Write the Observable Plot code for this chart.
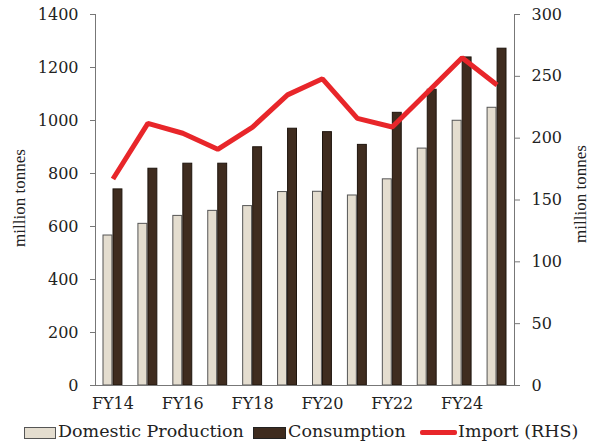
<!DOCTYPE html>
<html><head><meta charset="utf-8">
<script src="https://cdn.jsdelivr.net/npm/d3@7"></script>
<script src="https://cdn.jsdelivr.net/npm/@observablehq/plot@0.6"></script>
<style>
body{margin:0;background:#fff;}
#legend{position:relative;height:29px;font-family:"DejaVu Serif",serif;font-size:17.5px;color:#222;}
#legend .sw{position:absolute;top:9px;height:12px;box-sizing:border-box;}
#legend .tx{position:absolute;top:3px;white-space:nowrap;}
</style></head>
<body>
<div id="chart"></div>
<div id="legend">
  <div class="sw" style="left:24px;width:32px;background:#e4ddcf;border:1px solid #555;"></div>
  <div class="tx" style="left:58px;">Domestic Production</div>
  <div class="sw" style="left:253px;width:33px;background:#3f2c1f;border:1px solid #222;"></div>
  <div class="tx" style="left:288px;">Consumption</div>
  <div class="sw" style="left:420px;width:37px;top:12px;height:5px;background:#e8262a;border-radius:2px;"></div>
  <div class="tx" style="left:458px;">Import (RHS)</div>
</div>
<script>
const years = ["FY14","FY15","FY16","FY17","FY18","FY19","FY20","FY21","FY22","FY23","FY24","FY25"];
const domestic = [566,610,640,659,677,730,731,717,778,894,999,1048];
const consumption = [740,818,837,837,899,969,956,908,1029,1116,1238,1271];
const imports = [167,212,204,191,209,235,248,216,209,237,265,243];
const leftTicks = [0,200,400,600,800,1000,1200,1400];
const rightTicks = [0,50,100,150,200,250,300];
const xTickLabels = ["FY14","FY16","FY18","FY20","FY22","FY24"];

const k = 1400/300;
const rows = years.map((y,i)=>({year:y, dom:domestic[i], cons:consumption[i], imp:imports[i]}));

const chart = Plot.plot({
  width: 591, height: 418,
  marginLeft: 95, marginRight: 77, marginTop: 14, marginBottom: 33,
  style: {fontFamily: "DejaVu Serif, serif", fontSize: "15px", color: "#222", background: "#fff"},
  x: {type: "band", domain: years, padding: 0, round: false},
  y: {domain: [0, 1400]},
  marks: [
    Plot.barY(rows, {x: "year", y: "dom", fill: "#e4ddcf", stroke: "#555", strokeWidth: 1, insetLeft: 8, insetRight: 18}),
    Plot.barY(rows, {x: "year", y: "cons", fill: "#3f2c1f", stroke: "#1e140d", strokeWidth: 1, insetLeft: 18, insetRight: 8}),
    Plot.line(rows, {x: "year", y: d => d.imp * k, stroke: "#e8262a", strokeWidth: 5, strokeLinejoin: "miter", strokeLinecap: "butt"}),
    Plot.axisY({anchor: "left", ticks: leftTicks, tickFormat: d => String(d), tickSize: 5, tickPadding: 12, label: null, stroke: "#777", fontSize: 16}),
    Plot.axisY({anchor: "right", ticks: rightTicks.map(v => v * k), tickFormat: d => String(Math.round(d / k)), tickSize: 5, tickPadding: 12, label: null, stroke: "#777", fontSize: 16}),
    Plot.axisX({ticks: xTickLabels, tickSize: 0, tickPadding: 12, label: null, fontSize: 16}),
    Plot.frame({anchor: "left", stroke: "#777"}),
    Plot.frame({anchor: "right", stroke: "#777"}),
    Plot.ruleY([0], {stroke: "#777", insetLeft: -5, insetRight: -5}),
    Plot.text(["million tonnes"], {frameAnchor: "left", dx: -76, dy: -2, rotate: -90, textAnchor: "middle", fontFamily: "Liberation Serif, serif", fontSize: 17, fill: "#222"}),
    Plot.text(["million tonnes"], {frameAnchor: "right", dx: 66, dy: -6, rotate: -90, textAnchor: "middle", fontFamily: "Liberation Serif, serif", fontSize: 17, fill: "#222"})
  ]
});
document.getElementById("chart").appendChild(chart);
</script>
</body></html>
